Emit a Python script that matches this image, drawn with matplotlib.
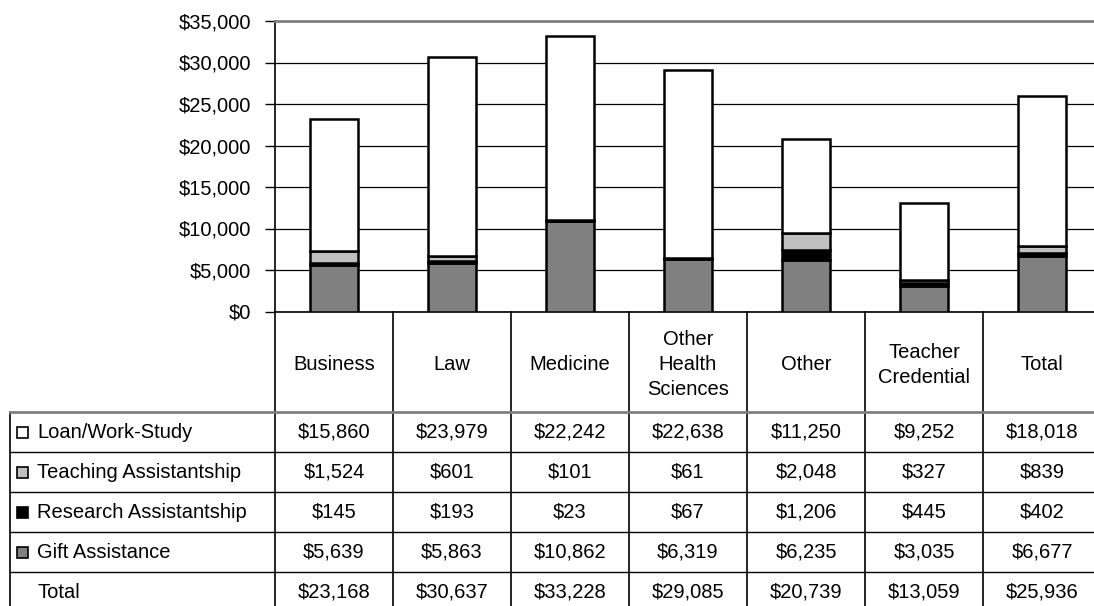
import matplotlib.pyplot as plt
import numpy as np

plt.rcParams["font.family"] = ["Liberation Sans", "DejaVu Sans"]

# data
categories = ["Business", "Law", "Medicine", "Other\nHealth\nSciences",
              "Other", "Teacher\nCredential", "Total"]
loan = [15860, 23979, 22242, 22638, 11250, 9252, 18018]
teaching = [1524, 601, 101, 61, 2048, 327, 839]
research = [145, 193, 23, 67, 1206, 445, 402]
gift = [5639, 5863, 10862, 6319, 6235, 3035, 6677]
totals = [23168, 30637, 33228, 29085, 20739, 13059, 25936]
series_names = ["Loan/Work-Study", "Teaching Assistantship",
                "Research Assistantship", "Gift Assistance"]
series_colors = ["white", "#c0c0c0", "black", "#808080"]
yticks = np.arange(0, 35001, 5000)

# layout (pixels)
W, H = 1094, 606
plot_left, col_w = 275, 118
plot_top, plot_bottom = 21, 311.5
header_bottom, row_h = 412, 40
table_left = 10
fs = 14.5


def money(v):
    return f"${v:,.0f}"


fig = plt.figure(figsize=(W / 100, H / 100), dpi=100)

ax = fig.add_axes([plot_left / W, (H - plot_bottom) / H,
                   len(categories) * col_w / W, (plot_bottom - plot_top) / H])
x = np.arange(len(categories))
bottom = np.zeros(len(categories))
# stack from the bottom: gift, research, teaching, loan
for vals, col in [(gift, series_colors[3]), (research, series_colors[2]),
                  (teaching, series_colors[1]), (loan, series_colors[0])]:
    ax.bar(x, vals, width=0.4, bottom=bottom, color=col,
           edgecolor="black", linewidth=1.8, zorder=3)
    bottom += np.array(vals)

ax.set_xlim(-0.5, len(categories) - 0.5)
ax.set_ylim(0, 35000)
ax.set_yticks(yticks)
ax.set_yticklabels([money(v) for v in yticks], fontsize=fs)
ax.tick_params(axis="y", length=7, width=1, pad=10, color="black")
ax.set_xticks([])
ax.yaxis.grid(True, color="black", linewidth=0.9, zorder=0)
ax.spines["right"].set_visible(False)
ax.spines["top"].set_color("#808080")
ax.spines["top"].set_linewidth(2)
ax.spines["left"].set_linewidth(1.2)
ax.spines["bottom"].set_linewidth(1.2)

# data table below the chart, in pixel coordinates
tax = fig.add_axes([0, 0, 1, 1], zorder=5)
tax.set_xlim(0, W)
tax.set_ylim(H, 0)
tax.axis("off")
tax.patch.set_alpha(0)

col_edges = [plot_left + i * col_w for i in range(len(categories) + 1)]
for cx in col_edges:
    tax.plot([cx, cx], [plot_bottom, H + 10], color="black", lw=1.2)
tax.plot([table_left, table_left], [header_bottom, H + 10], color="black", lw=1.2)
tax.plot([table_left, W], [header_bottom, header_bottom], color="#808080", lw=2)
for k in range(1, 5):
    yy = header_bottom + k * row_h
    tax.plot([table_left, W], [yy, yy], color="black", lw=1)

for i, name in enumerate(categories):
    cx = plot_left + (i + 0.5) * col_w
    tax.text(cx, (plot_bottom + header_bottom) / 2 + 3, name, ha="center",
             va="center", fontsize=fs, linespacing=1.4)

rows = [loan, teaching, research, gift, totals]
labels = series_names + ["Total"]
keys = series_colors + [None]
for r, (vals, lab, key) in enumerate(zip(rows, labels, keys)):
    cy = header_bottom + (r + 0.5) * row_h
    if key is not None:
        tax.add_patch(plt.Rectangle((16.5, cy - 5.5), 11, 11, facecolor=key,
                                    edgecolor="black", lw=1.2))
    tax.text(37, cy, lab, ha="left", va="center", fontsize=fs)
    for i, v in enumerate(vals):
        cx = plot_left + (i + 0.5) * col_w
        tax.text(cx, cy, money(v), ha="center", va="center", fontsize=fs)

fig.savefig("out.png", dpi=100)
